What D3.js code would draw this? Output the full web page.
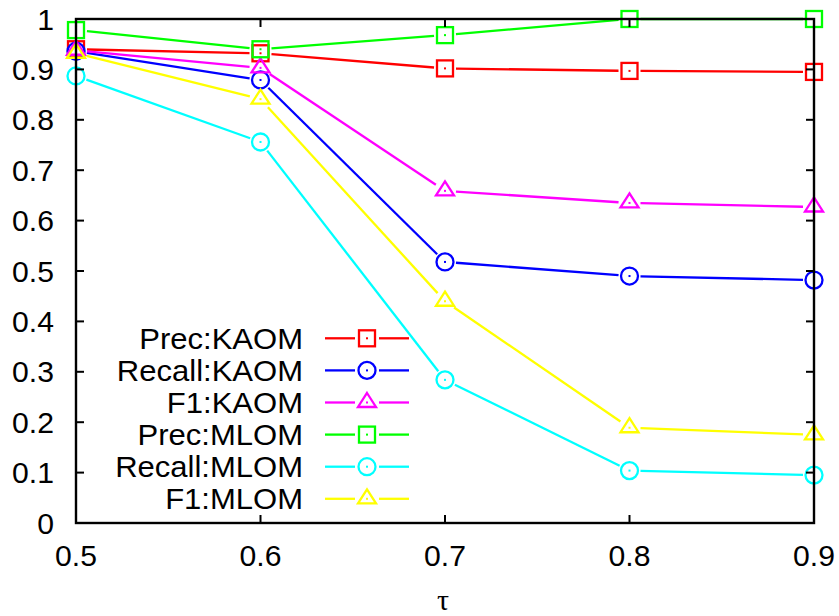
<!DOCTYPE html>
<html>
<head>
<meta charset="utf-8">
<script src="https://cdn.jsdelivr.net/npm/d3@7"></script>
<style>
  body { margin: 0; background: #fff; }
  text { font-family: "Liberation Sans", Arial, sans-serif; fill: #000; }
</style>
</head>
<body>
<div id="chart"></div>
<script>
var width = 839,
    height = 616;

/** data **/
var taus = [0.5, 0.6, 0.7, 0.8, 0.9];
var precKAOM   = [0.940, 0.932, 0.902, 0.897, 0.895];
var recallKAOM = [0.936, 0.879, 0.518, 0.490, 0.482];
var f1KAOM     = [0.938, 0.903, 0.659, 0.635, 0.627];
var precMLOM   = [0.978, 0.940, 0.968, 1.000, 1.000];
var recallMLOM = [0.887, 0.756, 0.284, 0.104, 0.095];
var f1MLOM     = [0.932, 0.841, 0.440, 0.189, 0.175];
var xTicks = [0.5, 0.6, 0.7, 0.8, 0.9];
var yTicks = [0, 0.1, 0.2, 0.3, 0.4, 0.5, 0.6, 0.7, 0.8, 0.9, 1];

var series = [
  {name: "Prec:KAOM",   values: precKAOM,   color: "#ff0000", shape: "square"},
  {name: "Recall:KAOM", values: recallKAOM, color: "#0000ff", shape: "circle"},
  {name: "F1:KAOM",     values: f1KAOM,     color: "#ff00ff", shape: "triangle"},
  {name: "Prec:MLOM",   values: precMLOM,   color: "#00ff00", shape: "square"},
  {name: "Recall:MLOM", values: recallMLOM, color: "#00ffff", shape: "circle"},
  {name: "F1:MLOM",     values: f1MLOM,     color: "#ffff00", shape: "triangle"}
];

var plotLeft = 76, plotRight = 814, plotTop = 19, plotBottom = 523;

var x = d3.scaleLinear().domain([0.5, 0.9]).range([plotLeft, plotRight]);
var y = d3.scaleLinear().domain([0, 1]).range([plotBottom, plotTop]);

var svg = d3.select("#chart")
    .append("svg")
    .attr("width", width)
    .attr("height", height);

var gap = 11;
var lw = 2.3;

/* draw one marker at px,py */
function marker(g, shape, px, py, color) {
  if (shape == "square") {
    g.append("rect")
        .attr("x", px - 8).attr("y", py - 8)
        .attr("width", 16).attr("height", 16)
        .style("fill", "none").style("stroke", color).style("stroke-width", lw);
  } else if (shape == "circle") {
    g.append("circle")
        .attr("cx", px).attr("cy", py).attr("r", 8.5)
        .style("fill", "none").style("stroke", color).style("stroke-width", lw);
  } else {
    g.append("path")
        .attr("d", "M" + px + "," + (py - 9.5) + "L" + (px + 9) + "," + (py + 4.5) +
                   "L" + (px - 9) + "," + (py + 4.5) + "Z")
        .style("fill", "none").style("stroke", color).style("stroke-width", lw);
  }
  g.append("rect")
      .attr("x", px - 1).attr("y", py - 1)
      .attr("width", 2).attr("height", 2)
      .style("fill", color);
}

/** Draw the series: segments stop short of the points **/
series.forEach(function(s) {
  var g = svg.append("g");
  var pts = s.values.map(function(v, i) { return [x(taus[i]), y(v)]; });
  for (var i = 0; i < pts.length - 1; i++) {
    var a = pts[i], b = pts[i + 1];
    var dx = b[0] - a[0], dy = b[1] - a[1];
    var len = Math.sqrt(dx * dx + dy * dy);
    if (len <= 2 * gap) continue;
    var ux = dx / len, uy = dy / len;
    g.append("line")
        .attr("x1", a[0] + ux * gap).attr("y1", a[1] + uy * gap)
        .attr("x2", b[0] - ux * gap).attr("y2", b[1] - uy * gap)
        .style("stroke", s.color).style("stroke-width", lw);
  }
  pts.forEach(function(p) { marker(g, s.shape, p[0], p[1], s.color); });
});

/** Frame and ticks (ticks point inward, mirrored) **/
var axes = svg.append("g");
axes.append("rect")
    .attr("x", plotLeft).attr("y", plotTop)
    .attr("width", plotRight - plotLeft).attr("height", plotBottom - plotTop)
    .style("fill", "none").style("stroke", "#000").style("stroke-width", 2.4);

yTicks.forEach(function(t) {
  axes.append("line").attr("x1", plotLeft).attr("x2", plotLeft + 8)
      .attr("y1", y(t)).attr("y2", y(t))
      .style("stroke", "#000").style("stroke-width", 2);
  axes.append("line").attr("x1", plotRight).attr("x2", plotRight - 8)
      .attr("y1", y(t)).attr("y2", y(t))
      .style("stroke", "#000").style("stroke-width", 2);
  axes.append("text")
      .attr("transform", "translate(54," + (y(t) + 10.5) + ") scale(1.04,1)")
      .attr("text-anchor", "end")
      .style("font-size", "29px")
      .text(d3.format("")(t));
});

xTicks.forEach(function(t) {
  axes.append("line").attr("x1", x(t)).attr("x2", x(t))
      .attr("y1", plotBottom).attr("y2", plotBottom - 8)
      .style("stroke", "#000").style("stroke-width", 2);
  axes.append("line").attr("x1", x(t)).attr("x2", x(t))
      .attr("y1", plotTop).attr("y2", plotTop + 8)
      .style("stroke", "#000").style("stroke-width", 2);
  axes.append("text")
      .attr("transform", "translate(" + x(t) + ",566) scale(1.04,1)")
      .attr("text-anchor", "middle")
      .style("font-size", "29px")
      .text(d3.format(".1f")(t));
});

svg.append("text")
    .attr("x", (plotLeft + plotRight) / 2 - 2)
    .attr("y", 610)
    .attr("text-anchor", "middle")
    .style("font-family", "'Liberation Serif', 'DejaVu Serif', serif")
    .style("font-size", "30px")
    .text("τ");

/** Legend **/
var legend = svg.append("g");
series.forEach(function(s, i) {
  var ly = 338.3 + i * 32.1;
  legend.append("text")
      .attr("transform", "translate(303," + (ly + 10.5) + ") scale(1.07,1)")
      .attr("text-anchor", "end")
      .style("font-size", "29px")
      .text(s.name);
  legend.append("line").attr("x1", 325).attr("x2", 355).attr("y1", ly).attr("y2", ly)
      .style("stroke", s.color).style("stroke-width", lw);
  legend.append("line").attr("x1", 379).attr("x2", 409).attr("y1", ly).attr("y2", ly)
      .style("stroke", s.color).style("stroke-width", lw);
  marker(legend, s.shape, 367, ly, s.color);
});
</script>
</body>
</html>
